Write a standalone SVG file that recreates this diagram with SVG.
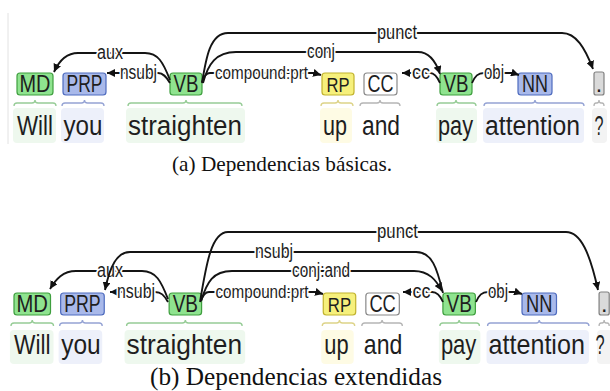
<svg xmlns="http://www.w3.org/2000/svg" width="610" height="391" viewBox="0 0 610 391">
<defs>
<marker id="ah" markerUnits="userSpaceOnUse" markerWidth="9" markerHeight="8" refX="8" refY="4" orient="auto">
<path d="M0,0 L8,4 L0,8 Z" fill="#111"/>
</marker>
<style>
text{font-family:"Liberation Sans",Arial,sans-serif}
.bgG{fill:#eef8ee}.bgB{fill:#edf0fa}.bgY{fill:#fefbe4}.bgK{fill:#f3f3f3}
.tG{fill:#8fe38f;stroke:#3f9f3f}.tB{fill:#a9b9ea;stroke:#4f6cbf}.tY{fill:#f6f07c;stroke:#c2b32e}.tW{fill:#fff;stroke:#8a8a8a}.tK{fill:#dadada;stroke:#808080}
.tag{stroke-width:1.2}
.brG{stroke:#96cc96}.brB{stroke:#95a3d4}.brY{stroke:#ddd388}.brK{stroke:#b5b5b5}
.br{fill:none;stroke-width:1.3}
.tt{font-size:23px;fill:#1e1e1e;text-anchor:middle}
.wd{font-size:27px;fill:#1e1e1e;text-anchor:middle}
.lb{font-size:20px;fill:#1e1e1e;text-anchor:middle;stroke:#fff;stroke-width:4px;paint-order:stroke;stroke-linejoin:round}
.arc{fill:none;stroke:#141414;stroke-width:1.9;marker-end:url(#ah)}
.cap{font-family:"Liberation Serif","Times New Roman",serif;font-size:22px;fill:#111;text-anchor:middle}
</style>
</defs>
<rect width="610" height="391" fill="#fff"/>
<line x1="8" y1="13" x2="8" y2="144" stroke="#e2e2e2" stroke-width="1"/>

<!-- Panel (a) nodes -->
<g id="panel-a-nodes">
<g id="a-MD"><rect class="bgG" x="13" y="108" width="43" height="35" rx="4"/><path class="br brG" d="M14,106 Q14,103 17,103 L32,103 Q35,103 35,100 Q35,103 38,103 L53,103 Q56,103 56,106"/><rect class="tag tG" x="17" y="73" width="36" height="22" rx="3"/><text class="tt" x="35" y="92" textLength="31" lengthAdjust="spacingAndGlyphs">MD</text><text class="wd" x="35" y="135" textLength="36" lengthAdjust="spacingAndGlyphs">Will</text></g>
<g id="a-PRP"><rect class="bgB" x="61" y="108" width="43" height="35" rx="4"/><path class="br brB" d="M62,106 Q62,103 65,103 L81.5,103 Q84.5,103 84.5,100 Q84.5,103 87.5,103 L101,103 Q104,103 104,106"/><rect class="tag tB" x="63" y="73" width="43" height="22" rx="3"/><text class="tt" x="84.5" y="92" textLength="36" lengthAdjust="spacingAndGlyphs">PRP</text><text class="wd" x="83" y="135" textLength="39" lengthAdjust="spacingAndGlyphs">you</text></g>
<g id="a-VB"><rect class="bgG" x="126" y="108" width="119" height="35" rx="4"/><path class="br brG" d="M128,106 Q128,103 131,103 L183,103 Q186,103 186,100 Q186,103 189,103 L239,103 Q242,103 242,106"/><rect class="tag tG" x="170" y="73" width="32" height="22" rx="3"/><text class="tt" x="186" y="92" textLength="25" lengthAdjust="spacingAndGlyphs">VB</text><text class="wd" x="185" y="135" textLength="114" lengthAdjust="spacingAndGlyphs">straighten</text></g>
<g id="a-RP"><rect class="bgY" x="320" y="108" width="32" height="35" rx="4"/><path class="br brY" d="M321,106 Q321,103 324,103 L335,103 Q338,103 338,100 Q338,103 341,103 L350,103 Q353,103 353,106"/><rect class="tag tY" x="322" y="73" width="32" height="22" rx="3"/><text class="tt" x="338" y="92" textLength="23" lengthAdjust="spacingAndGlyphs" style="font-size:21px">RP</text><text class="wd" x="335" y="135" textLength="24" lengthAdjust="spacingAndGlyphs">up</text></g>
<g id="a-CC"><path class="br brK" d="M360,106 Q360,103 363,103 L377,103 Q380,103 380,100 Q380,103 383,103 L397,103 Q400,103 400,106"/><rect class="tag tW" x="364" y="73" width="33" height="22" rx="3"/><text class="tt" x="380.5" y="92" textLength="26" lengthAdjust="spacingAndGlyphs">CC</text><text class="wd" x="381" y="135" textLength="38" lengthAdjust="spacingAndGlyphs">and</text></g>
<g id="a-VB2"><rect class="bgG" x="436" y="108" width="41" height="35" rx="4"/><path class="br brG" d="M437,106 Q437,103 440,103 L453,103 Q456,103 456,100 Q456,103 459,103 L473,103 Q476,103 476,106"/><rect class="tag tG" x="440" y="73" width="32" height="22" rx="3"/><text class="tt" x="456" y="92" textLength="25" lengthAdjust="spacingAndGlyphs">VB</text><text class="wd" x="455.5" y="135" textLength="35" lengthAdjust="spacingAndGlyphs">pay</text></g>
<g id="a-NN"><rect class="bgB" x="483" y="108" width="101" height="35" rx="4"/><path class="br brB" d="M484,106 Q484,103 487,103 L532,103 Q535,103 535,100 Q535,103 538,103 L581,103 Q584,103 584,106"/><rect class="tag tB" x="518" y="73" width="34" height="22" rx="3"/><text class="tt" x="535" y="92" textLength="26" lengthAdjust="spacingAndGlyphs">NN</text><text class="wd" x="532.5" y="135" textLength="95" lengthAdjust="spacingAndGlyphs">attention</text></g>
<g id="a-PUNCT"><rect class="bgK" x="592" y="108" width="15" height="35" rx="4"/><path class="br brK" d="M594,106 Q594,103 596,103 L597,103 Q599,103 599,100 Q599,103 601,103 L602,103 Q604,103 604,106"/><rect class="tag tK" x="594" y="72" width="10" height="23" rx="2"/><text class="tt" x="599" y="92">.</text><text class="wd" x="599" y="135" textLength="9" lengthAdjust="spacingAndGlyphs">?</text></g>
</g>

<!-- Panel (a) connectors -->
<g id="panel-a-connectors">
<path class="arc" d="M202,83 C206,58 210,33 228,33 L562,33 C576,33 585,48 593,69"/><text class="lb" x="397" y="39" textLength="40" lengthAdjust="spacingAndGlyphs">punct</text>
<path class="arc" d="M203,83 C208,64 216,52 236,52 L418,52 C430,52 436,62 440,74"/><text class="lb" x="321" y="58" textLength="28" lengthAdjust="spacingAndGlyphs">conj</text>
<path class="arc" d="M170,80 C163,62 158,53 145,53 L78,53 C66,53 59,61 54,72"/><text class="lb" x="110" y="59" textLength="26" lengthAdjust="spacingAndGlyphs">aux</text>
<path class="arc" d="M170,83 C166,76 163,73 158,73 L107,73"/><text class="lb" x="138.5" y="79" textLength="37" lengthAdjust="spacingAndGlyphs">nsubj</text>
<path class="arc" d="M202,82 C204,76 206,73 210,73 L314,73 L321,75"/><text class="lb" x="261.5" y="79" textLength="93" lengthAdjust="spacingAndGlyphs" style="font-size:18px">compound:prt</text>
<path class="arc" d="M440,83 C437,76 434,73 430,73 L402,73"/><text class="lb" x="421" y="79" textLength="18" lengthAdjust="spacingAndGlyphs">cc</text>
<path class="arc" d="M472,83 C475,76 478,73 484,73 L513,73 L519,75"/><text class="lb" x="494" y="79" textLength="20" lengthAdjust="spacingAndGlyphs">obj</text>
</g>

<text id="caption-a" class="cap" x="282" y="171" textLength="220" lengthAdjust="spacingAndGlyphs">(a) Dependencias básicas.</text>

<!-- Panel (b) nodes -->
<g id="panel-b-nodes" transform="translate(-3.24,220) scale(1.014,1)">
<g id="b-MD"><rect class="bgG" x="13" y="110" width="43" height="34" rx="4"/><path class="br brG" d="M14,106 Q14,103 17,103 L32,103 Q35,103 35,100 Q35,103 38,103 L53,103 Q56,103 56,106"/><rect class="tag tG" x="17" y="73" width="36" height="22" rx="3"/><text class="tt" x="35" y="92" textLength="31" lengthAdjust="spacingAndGlyphs">MD</text><text class="wd" x="35" y="134" textLength="36" lengthAdjust="spacingAndGlyphs">Will</text></g>
<g id="b-PRP"><rect class="bgB" x="61" y="110" width="43" height="34" rx="4"/><path class="br brB" d="M62,106 Q62,103 65,103 L81.5,103 Q84.5,103 84.5,100 Q84.5,103 87.5,103 L101,103 Q104,103 104,106"/><rect class="tag tB" x="63" y="73" width="43" height="22" rx="3"/><text class="tt" x="84.5" y="92" textLength="36" lengthAdjust="spacingAndGlyphs">PRP</text><text class="wd" x="83" y="134" textLength="39" lengthAdjust="spacingAndGlyphs">you</text></g>
<g id="b-VB"><rect class="bgG" x="126" y="110" width="119" height="34" rx="4"/><path class="br brG" d="M128,106 Q128,103 131,103 L183,103 Q186,103 186,100 Q186,103 189,103 L239,103 Q242,103 242,106"/><rect class="tag tG" x="170" y="73" width="32" height="22" rx="3"/><text class="tt" x="186" y="92" textLength="25" lengthAdjust="spacingAndGlyphs">VB</text><text class="wd" x="185" y="134" textLength="114" lengthAdjust="spacingAndGlyphs">straighten</text></g>
<g id="b-RP"><rect class="bgY" x="320" y="110" width="32" height="34" rx="4"/><path class="br brY" d="M321,106 Q321,103 324,103 L335,103 Q338,103 338,100 Q338,103 341,103 L350,103 Q353,103 353,106"/><rect class="tag tY" x="322" y="73" width="32" height="22" rx="3"/><text class="tt" x="338" y="92" textLength="23" lengthAdjust="spacingAndGlyphs" style="font-size:21px">RP</text><text class="wd" x="335" y="134" textLength="24" lengthAdjust="spacingAndGlyphs">up</text></g>
<g id="b-CC"><path class="br brK" d="M360,106 Q360,103 363,103 L377,103 Q380,103 380,100 Q380,103 383,103 L397,103 Q400,103 400,106"/><rect class="tag tW" x="364" y="73" width="33" height="22" rx="3"/><text class="tt" x="380.5" y="92" textLength="26" lengthAdjust="spacingAndGlyphs">CC</text><text class="wd" x="381" y="134" textLength="38" lengthAdjust="spacingAndGlyphs">and</text></g>
<g id="b-VB2"><rect class="bgG" x="436" y="110" width="41" height="34" rx="4"/><path class="br brG" d="M437,106 Q437,103 440,103 L453,103 Q456,103 456,100 Q456,103 459,103 L473,103 Q476,103 476,106"/><rect class="tag tG" x="440" y="73" width="32" height="22" rx="3"/><text class="tt" x="456" y="92" textLength="25" lengthAdjust="spacingAndGlyphs">VB</text><text class="wd" x="455.5" y="134" textLength="35" lengthAdjust="spacingAndGlyphs">pay</text></g>
<g id="b-NN"><rect class="bgB" x="483" y="110" width="101" height="34" rx="4"/><path class="br brB" d="M484,106 Q484,103 487,103 L532,103 Q535,103 535,100 Q535,103 538,103 L581,103 Q584,103 584,106"/><rect class="tag tB" x="518" y="73" width="34" height="22" rx="3"/><text class="tt" x="535" y="92" textLength="26" lengthAdjust="spacingAndGlyphs">NN</text><text class="wd" x="532.5" y="134" textLength="95" lengthAdjust="spacingAndGlyphs">attention</text></g>
<g id="b-PUNCT"><rect class="bgK" x="592" y="110" width="15" height="34" rx="4"/><path class="br brK" d="M594,106 Q594,103 596,103 L597,103 Q599,103 599,100 Q599,103 601,103 L602,103 Q604,103 604,106"/><rect class="tag tK" x="594" y="72" width="10" height="23" rx="2"/><text class="tt" x="599" y="92">.</text><text class="wd" x="595" y="134" textLength="9" lengthAdjust="spacingAndGlyphs">?</text></g>
</g>

<!-- Panel (b) connectors -->
<g id="panel-b-connectors">
<path class="arc" d="M200,302 C206,266 211,232 228,232 L566,232 C581,232 590,254 598,290"/><text class="lb" x="397.5" y="238" textLength="41" lengthAdjust="spacingAndGlyphs">punct</text>
<path class="arc" d="M201,301 C207,282 213,271 232,271 L414,271 C429,271 436,280 442,291"/><text class="lb" x="321" y="277" textLength="58" lengthAdjust="spacingAndGlyphs">conj:and</text>
<path class="arc" d="M168,299 C161,281 156,271 142,271 L76,271 C63,271 56,279 50,289"/><text class="lb" x="110" y="277" textLength="26" lengthAdjust="spacingAndGlyphs">aux</text>
<path class="arc" d="M443,293 C437,268 432,252 416,252 L130,252 C117,252 110,266 105,290"/><text class="lb" x="274" y="258" textLength="38" lengthAdjust="spacingAndGlyphs">nsubj</text>
<path class="arc" d="M168,302 C164,295 161,292 155,292 L110,292"/><text class="lb" x="136" y="298" textLength="38" lengthAdjust="spacingAndGlyphs">nsubj</text>
<path class="arc" d="M201,301 C203,295 205,292 209,292 L316,292 L323,294"/><text class="lb" x="262" y="298" textLength="93" lengthAdjust="spacingAndGlyphs" style="font-size:18px">compound:prt</text>
<path class="arc" d="M443,302 C440,295 437,292 432,292 L403,292"/><text class="lb" x="421.5" y="298" textLength="18" lengthAdjust="spacingAndGlyphs">cc</text>
<path class="arc" d="M476,302 C479,295 482,292 488,292 L516,292 L522,294"/><text class="lb" x="498" y="298" textLength="20" lengthAdjust="spacingAndGlyphs">obj</text>
</g>

<text id="caption-b" class="cap" x="296" y="385" textLength="292" lengthAdjust="spacingAndGlyphs" style="font-size:25px">(b) Dependencias extendidas</text>
</svg>
